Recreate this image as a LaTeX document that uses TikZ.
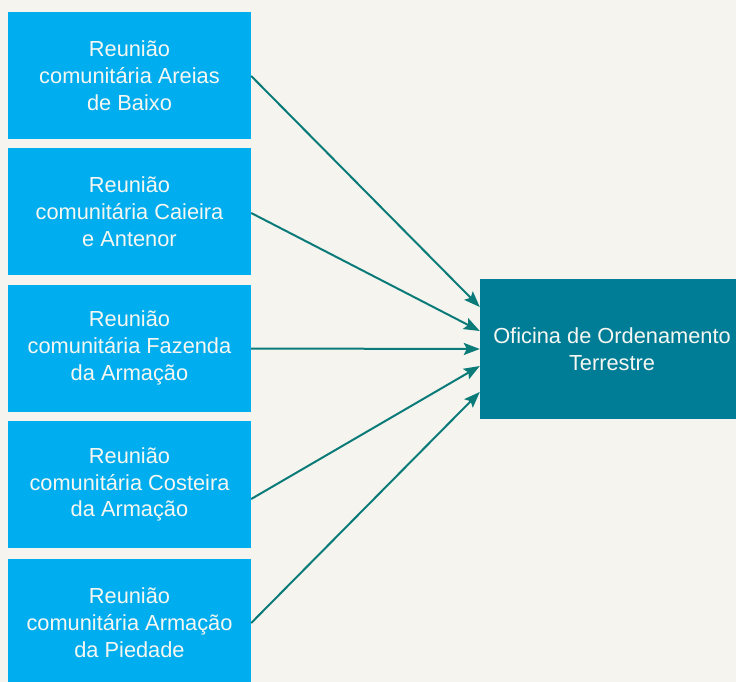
\documentclass[tikz,border=0pt]{standalone}
\usepackage{fontspec}
\setmainfont{Liberation Sans}
\usetikzlibrary{arrows.meta}
\definecolor{bg}{HTML}{F5F4EE}
\definecolor{cyanbox}{HTML}{00AEEF}
\definecolor{tealbox}{HTML}{007D96}
\definecolor{arrowc}{HTML}{0B7B7A}
\definecolor{txt}{HTML}{F7F7F2}
\tikzset{
  srcbox/.style={fill=cyanbox, draw=none, minimum width=243pt, minimum height=127pt,
    inner sep=0pt, text=txt, align=center, font=\fontsize{21.8}{26.8}\selectfont},
  dstbox/.style={fill=tealbox, draw=none, minimum width=256pt, minimum height=140pt,
    inner sep=0pt, text=txt, align=center, font=\fontsize{21.8}{26.8}\selectfont},
  conn/.style={draw=arrowc, line width=2pt, -{Stealth[length=16pt,width=12pt,inset=3pt]}}
}
\begin{document}
\begin{tikzpicture}[x=1pt,y=-1pt]
\path[use as bounding box, fill=bg] (0,0) rectangle (736,682);
\clip (0,0) rectangle (736,682);
\node[srcbox] (b1) at (129.5,75.5) {Reunião\\comunitária Areias\\de Baixo};
\node[srcbox] (b2) at (129.5,211.5) {Reunião\\comunitária Caieira\\e Antenor};
\node[srcbox] (b3) at (129.5,348) {Reunião\\comunitária Fazenda\\da Armação};
\node[srcbox] (b4) at (129.5,484.5) {Reunião\\comunitária Costeira\\da Armação};
\node[srcbox] (b5) at (129.5,622.5) {Reunião\\comunitária Armação\\da Piedade};
\node[dstbox] (o) at (608,349) {\hspace*{8pt}Oficina de Ordenamento\\\hspace*{8pt}Terrestre};
\draw[conn] ([yshift=-0.5pt]b1.east) -- ([yshift=42pt]o.west);
\draw[conn] ([yshift=-1.5pt]b2.east) -- ([yshift=18pt]o.west);
\draw[conn] ([yshift=-0.5pt]b3.east) -- ([yshift=0pt]o.west);
\draw[conn] ([yshift=-14.5pt]b4.east) -- ([yshift=-17pt]o.west);
\draw[conn] ([yshift=-0.5pt]b5.east) -- ([yshift=-43pt]o.west);
\end{tikzpicture}
\end{document}
